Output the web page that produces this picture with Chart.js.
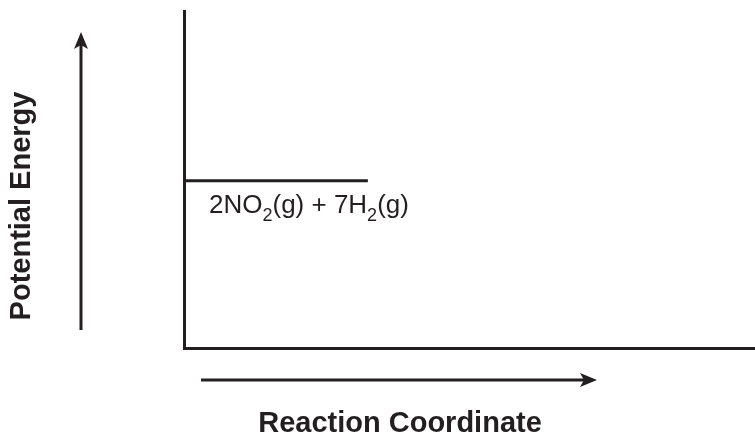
<!DOCTYPE html>
<html lang="en">
<head>
<meta charset="UTF-8">
<title>Potential Energy Diagram</title>
<script src="https://cdn.jsdelivr.net/npm/chart.js@4.4.0/dist/chart.umd.min.js"></script>
<style>
  html, body { margin: 0; padding: 0; background: #fff; }
  #wrap { width: 755px; height: 438px; }
</style>
</head>
<body>
<div id="wrap"><canvas id="chart" width="755" height="438"></canvas></div>
<script>
// reactant energy level (x from 0..100, y from 0..100)
const reactionCoord = [0, 32.2];
const energyLevel = [49.6, 49.6];
// label pieces: [text, isSubscript]
const speciesLabel = [['2NO', false], ['2', true], ['(g) + 7H', false], ['2', true], ['(g)', false]];
const xTitle = 'Reaction Coordinate';
const yTitle = 'Potential Energy';

const ink = '#231f20';
const fontFamily = '"Liberation Sans", Arial, Helvetica, sans-serif';

function drawArrow(ctx, x1, y1, x2, y2) {
    const ang = Math.atan2(y2 - y1, x2 - x1);
    const headLen = 17, halfW = 7, notch = 4;
    ctx.save();
    ctx.strokeStyle = ink;
    ctx.fillStyle = ink;
    ctx.lineWidth = 3;
    ctx.beginPath();
    ctx.moveTo(x1, y1);
    ctx.lineTo(x2 - Math.cos(ang) * (headLen - notch), y2 - Math.sin(ang) * (headLen - notch));
    ctx.stroke();
    ctx.translate(x2, y2);
    ctx.rotate(ang);
    ctx.beginPath();
    ctx.moveTo(0, 0);
    ctx.lineTo(-headLen, -halfW);
    ctx.lineTo(-headLen + notch, 0);
    ctx.lineTo(-headLen, halfW);
    ctx.closePath();
    ctx.fill();
    ctx.restore();
}

const diagramExtras = {
    id: 'diagramExtras',
    afterDraw(chart) {
        const {ctx, chartArea: area, scales: {x, y}} = chart;

        // species label under the reactant level
        let px = x.getPixelForValue(reactionCoord[0]) + 25;
        const base = y.getPixelForValue(energyLevel[0]) + 32;
        ctx.save();
        ctx.fillStyle = ink;
        ctx.textBaseline = 'alphabetic';
        ctx.textAlign = 'left';
        speciesLabel.forEach(([txt, sub]) => {
            ctx.font = (sub ? '18px ' : '26px ') + fontFamily;
            ctx.fillText(txt, px, sub ? base + 8 : base);
            px += ctx.measureText(txt).width;
        });

        // axis titles
        ctx.font = 'bold 29px ' + fontFamily;
        ctx.textAlign = 'center';
        ctx.textBaseline = 'middle';
        ctx.fillText(xTitle, area.left + 216, area.bottom + 76);
        ctx.translate(area.left - 162, area.top + 195);
        ctx.rotate(-Math.PI / 2);
        ctx.fillText(yTitle, 0, 0);
        ctx.restore();

        // direction arrows
        drawArrow(ctx, area.left - 103, area.bottom - 18, area.left - 103, area.top + 21);
        drawArrow(ctx, area.left + 17, area.bottom + 32, area.left + 413, area.bottom + 32);
    }
};

new Chart(document.getElementById('chart'), {
    type: 'scatter',
    data: {
        datasets: [{
            data: reactionCoord.map((v, i) => ({x: v, y: energyLevel[i]})),
            showLine: true,
            borderColor: ink,
            borderWidth: 3,
            pointRadius: 0,
            borderCapStyle: 'butt'
        }]
    },
    options: {
        responsive: false,
        animation: false,
        layout: { padding: { left: 184, top: 11, right: 0, bottom: 90 } },
        scales: {
            x: {
                type: 'linear', min: 0, max: 100,
                ticks: { display: false },
                grid: { display: false, drawTicks: false },
                border: { display: true, width: 3, color: ink }
            },
            y: {
                type: 'linear', min: 0, max: 100,
                ticks: { display: false },
                grid: { display: false, drawTicks: false },
                border: { display: true, width: 3, color: ink }
            }
        },
        plugins: {
            legend: { display: false },
            tooltip: { enabled: false }
        }
    },
    plugins: [diagramExtras]
});
</script>
</body>
</html>
